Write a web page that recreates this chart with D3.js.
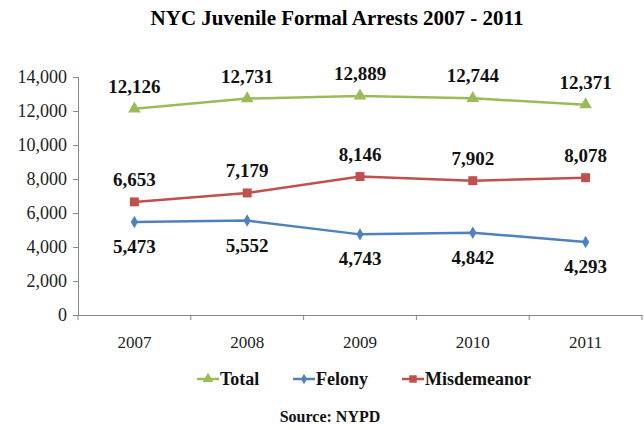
<!DOCTYPE html>
<html><head><meta charset="utf-8">
<script src="https://cdn.jsdelivr.net/npm/d3@7/dist/d3.min.js"></script>
<style>body{margin:0;background:#fff}svg{display:block}svg text{font-family:"Liberation Serif","Times New Roman",serif !important}</style>
</head><body><svg id="c" width="644" height="430"></svg>
<script>
const years = ["2007","2008","2009","2010","2011"];
const totalValues = [12126,12731,12889,12744,12371];
const felonyValues = [5473,5552,4743,4842,4293];
const misdemeanorValues = [6653,7179,8146,7902,8078];
const yTicks = [0,2000,4000,6000,8000,10000,12000,14000];
const seriesNames = ["Total","Felony","Misdemeanor"];

const svg = d3.select("#c");
const x = d3.scaleBand().domain(years).range([78,642]);
const y = d3.scaleLinear().domain([0,14000]).range([315,77]);
const fmt = d3.format(",");

svg.append("text").attr("x",337).attr("y",25).attr("text-anchor","middle")
  .style("font-weight","bold").style("font-size","21px").text("NYC Juvenile Formal Arrests 2007 - 2011");

const yAx = svg.append("g").attr("transform","translate(78,0)")
  .call(d3.axisLeft(y).tickValues(yTicks).tickFormat(fmt).tickSizeOuter(0).tickSize(5).tickPadding(6));
const xAx = svg.append("g").attr("transform","translate(0,315)")
  .call(d3.axisBottom(x).tickSize(0).tickPadding(21));
xAx.selectAll(".tick line").remove();
xAx.selectAll(".bd").data(years.concat(["end"])).enter().append("line")
  .attr("x1",(d,i)=>78+i*x.step()).attr("x2",(d,i)=>78+i*x.step()).attr("y1",0).attr("y2",5).attr("stroke","#888");
[yAx,xAx].forEach(g=>{
  g.selectAll("path.domain,line").attr("stroke","#888");
  g.selectAll("text").style("font-size","17px").attr("fill","#222");
});
yAx.selectAll("text").style("font-size","18px");

const series = [
  {name:"Total", vals: totalValues, color:"#9BBB59", shape:d3.symbolTriangle, size:70, dy:-16},
  {name:"Felony", vals: felonyValues, color:"#4F81BD", shape:d3.symbolDiamond, size:45, dy:31},
  {name:"Misdemeanor", vals: misdemeanorValues, color:"#C0504D", shape:d3.symbolSquare, size:80, dy:-16}
];
const cx = d=>x(d)+x.bandwidth()/2;
series.forEach(s=>{
  const pts = years.map((yr,i)=>[cx(yr), y(s.vals[i])]);
  svg.append("path").attr("d",d3.line()(pts)).attr("fill","none").attr("stroke",s.color).attr("stroke-width",2.5);
  svg.selectAll(null).data(pts).enter().append("path")
    .attr("d",d3.symbol().type(s.shape).size(s.size)).attr("transform",p=>`translate(${p[0]},${p[1]})`).attr("fill",s.color);
  svg.selectAll(null).data(years).enter().append("text")
    .attr("x",cx).attr("y",(d,i)=>y(s.vals[i])+s.dy).attr("text-anchor","middle")
    .style("font-weight","bold").style("font-size","19px").attr("fill","#111")
    .text((d,i)=>fmt(s.vals[i]));
});

// legend
const legX = [197,293,402];
series.forEach((s,i)=>{
  const g = svg.append("g").attr("transform",`translate(${legX[i]},379)`);
  g.append("line").attr("x1",0).attr("x2",22).attr("stroke",s.color).attr("stroke-width",2.5);
  g.append("path").attr("d",d3.symbol().type(s.shape).size(s.size*0.7)).attr("transform","translate(11,0)").attr("fill",s.color);
  g.append("text").attr("x",23).attr("y",6).style("font-weight","bold").style("font-size","18px").attr("fill","#111").text(seriesNames[i]);
});
svg.append("text").attr("x",330).attr("y",422).attr("text-anchor","middle")
  .style("font-weight","bold").style("font-size","16px").attr("fill","#111").text("Source: NYPD");
</script></body></html>
